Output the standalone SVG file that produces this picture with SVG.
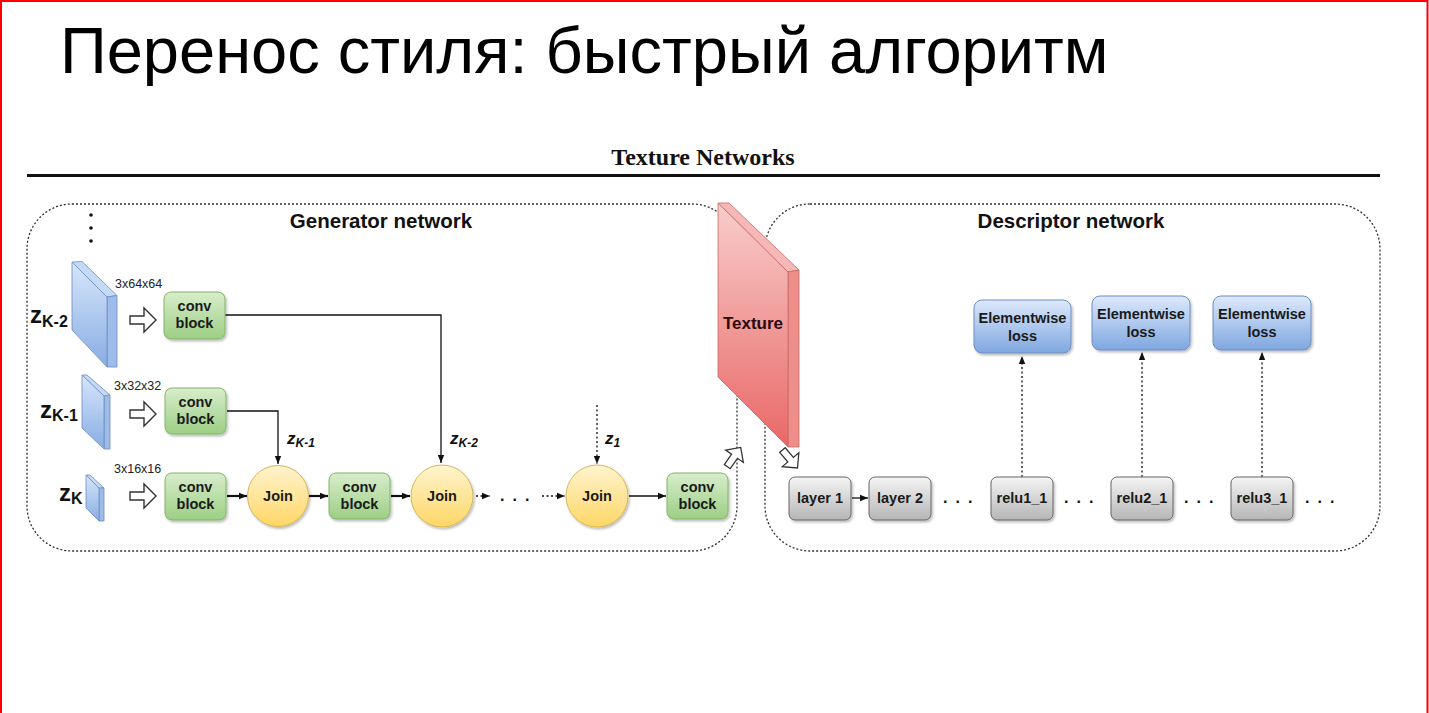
<svg xmlns="http://www.w3.org/2000/svg" width="1429" height="713" viewBox="0 0 1429 713">
  <style>
    .title { font-family: "Liberation Sans", Arial, sans-serif; font-size: 65px; fill: #000; }
    .caption { font-family: "Liberation Serif", "Times New Roman", serif; font-weight: bold; font-size: 24px; fill: #111; }
    .section { font-family: "Liberation Sans", Arial, sans-serif; font-weight: bold; font-size: 20.5px; fill: #111; }
    .lbl { font-family: "Liberation Sans", Arial, sans-serif; font-weight: bold; font-size: 14.5px; fill: #1a1a1a; text-anchor: middle; }
    .dim { font-family: "Liberation Sans", Arial, sans-serif; font-size: 12.5px; fill: #222; }
    .zbig { font-family: "Liberation Sans", Arial, sans-serif; font-weight: bold; font-size: 24px; fill: #111; }
    .zsub { font-family: "Liberation Sans", Arial, sans-serif; font-weight: bold; font-style: italic; font-size: 17px; fill: #111; }
    .dots { font-family: "Liberation Sans", Arial, sans-serif; font-weight: bold; font-size: 16px; fill: #111; letter-spacing: 8px; }
    .frame { fill: none; stroke: #333; stroke-width: 1.3; stroke-dasharray: 2 2; }
    .conv { fill: url(#gGreen); stroke: #82b366; stroke-width: 1; filter: url(#shadow); }
    .loss { fill: url(#gBlue); stroke: #6c8ebf; stroke-width: 1; filter: url(#shadow); }
    .layer { fill: url(#gGrey); stroke: #666; stroke-width: 1; filter: url(#shadow); }
    .join { fill: url(#gYellow); stroke: #d6b656; stroke-width: 1; filter: url(#shadow); }
    .wire { fill: none; stroke: #111; stroke-width: 1.3; marker-end: url(#arrow); }
    .wire.bold { stroke-width: 2.2; }
    .wire.dotted { stroke-dasharray: 2 2.5; }
    .hollow { fill: #fff; stroke: #333; stroke-width: 1.4; stroke-linejoin: miter; }
    .slab { stroke: #6c8ebf; stroke-width: 0.8; }
  </style>
  <defs>
    <linearGradient id="gGreen" x1="0" y1="0" x2="0" y2="1">
      <stop offset="0" stop-color="#d8edcc"/>
      <stop offset="1" stop-color="#9ccf84"/>
    </linearGradient>
    <linearGradient id="gBlue" x1="0" y1="0" x2="0" y2="1">
      <stop offset="0" stop-color="#dde9fb"/>
      <stop offset="1" stop-color="#7fa7e0"/>
    </linearGradient>
    <linearGradient id="gGrey" x1="0" y1="0" x2="0" y2="1">
      <stop offset="0" stop-color="#f5f5f5"/>
      <stop offset="1" stop-color="#b5b5b5"/>
    </linearGradient>
    <linearGradient id="gYellow" x1="0" y1="0" x2="0" y2="1">
      <stop offset="0" stop-color="#fff4cf"/>
      <stop offset="1" stop-color="#ffd766"/>
    </linearGradient>
    <linearGradient id="gRed" x1="0" y1="0" x2="0" y2="1">
      <stop offset="0" stop-color="#f8cdcb"/>
      <stop offset="1" stop-color="#e96866"/>
    </linearGradient>
    <linearGradient id="gSlab" x1="0" y1="0" x2="0" y2="1">
      <stop offset="0" stop-color="#d7e6fb"/>
      <stop offset="1" stop-color="#88ade3"/>
    </linearGradient>
    <filter id="shadow" x="-20%" y="-20%" width="150%" height="150%">
      <feDropShadow dx="1.5" dy="2" stdDeviation="1.2" flood-color="#000" flood-opacity="0.25"/>
    </filter>
    <marker id="arrow" markerUnits="userSpaceOnUse" viewBox="0 0 10 10" refX="10" refY="5" markerWidth="8" markerHeight="8" orient="auto">
      <path d="M0,1 L10,5 L0,9 Z" fill="#111"/>
    </marker>
    <path id="hollowArrow" d="M-13,-4 H1 V-12 L13,0 L1,12 V4 H-13 Z"/>
  </defs>

  <rect x="0" y="0" width="1429" height="713" fill="#fff"/>
  <!-- slide border -->
  <path d="M1,716 V1 H1427.5 V716" fill="none" stroke="#ff0000" stroke-width="2"/>

  <text class="title" x="60" y="73">Перенос стиля: быстрый алгоритм</text>

  <text class="caption" x="703" y="165" text-anchor="middle">Texture Networks</text>
  <line x1="27" y1="175.5" x2="1380" y2="175.5" stroke="#111" stroke-width="3"/>

  <!-- dotted frames of the two networks -->
  <g id="generator-frame">
    <rect class="frame" x="27" y="204" width="710" height="347" rx="45" ry="45"/>
    <text class="section" x="381" y="228" text-anchor="middle">Generator network</text>
  </g>
  <g id="descriptor-frame">
    <rect class="frame" x="765" y="204" width="615" height="347" rx="45" ry="45"/>
    <text class="section" x="1071" y="228" text-anchor="middle">Descriptor network</text>
  </g>

  <!-- noise inputs -->
  <g id="more-inputs" fill="#111">
    <circle cx="91" cy="215" r="1.8"/>
    <circle cx="91" cy="228" r="1.8"/>
    <circle cx="91" cy="241" r="1.8"/>
  </g>

  <g id="z-k2">
    <polygon class="slab" fill="#c5daf7" points="72,262 82,261.5 117,295.5 107,297"/>
    <polygon class="slab" fill="#9dbcea" points="107,297 117,295.5 117,367 107,367"/>
    <polygon class="slab" fill="url(#gSlab)" points="72,262 107,297 107,367 72,330"/>
    <text class="zbig" x="30" y="323">z<tspan font-size="16" dy="4">K-2</tspan></text>
    <text class="dim" x="115" y="288">3x64x64</text>
  </g>
  <g id="z-k1">
    <polygon class="slab" fill="#c5daf7" points="82,375 87,375 110,395 104,396"/>
    <polygon class="slab" fill="#9dbcea" points="104,396 110,395 110,449 104,449"/>
    <polygon class="slab" fill="url(#gSlab)" points="82,375 104,396 104,449 82,428"/>
    <text class="zbig" x="40" y="418">z<tspan font-size="16" dy="3">K-1</tspan></text>
    <text class="dim" x="114" y="390">3x32x32</text>
  </g>
  <g id="z-k">
    <polygon class="slab" fill="#c5daf7" points="86,475 90,475 104,488 99,488"/>
    <polygon class="slab" fill="#9dbcea" points="99,488 104,488 104,521 99,521"/>
    <polygon class="slab" fill="url(#gSlab)" points="86,475 99,488 99,521 86,508"/>
    <text class="zbig" x="59" y="501">z<tspan font-size="16" dy="3">K</tspan></text>
    <text class="dim" x="114" y="473">3x16x16</text>
  </g>

  <!-- input arrows -->
  <g id="input-arrows">
    <use href="#hollowArrow" class="hollow" transform="translate(143,320)"/>
    <use href="#hollowArrow" class="hollow" transform="translate(143,414)"/>
    <use href="#hollowArrow" class="hollow" transform="translate(143,496)"/>
  </g>

  <!-- connectors -->
  <g id="connectors">
    <path class="wire" d="M225,315 H441 V463"/>
    <path class="wire" d="M227,411 H278 V464"/>
    <path class="wire bold" d="M227,496 H247"/>
    <path class="wire bold" d="M309,496 H328"/>
    <path class="wire bold" d="M391,496 H410"/>
    <path class="wire dotted" d="M476,496 H490"/>
    <path class="wire dotted" d="M542,496 H565"/>
    <path class="wire" d="M629,496 H666"/>
    <path class="wire dotted" d="M597,405 V464"/>
    <path class="wire" d="M852,498 H868"/>
    <path class="wire dotted" d="M1022,477 V356"/>
    <path class="wire dotted" d="M1142,477 V352"/>
    <path class="wire dotted" d="M1262,477 V352"/>
  </g>

  <g id="connector-labels">
    <text class="zsub" x="287" y="444">z<tspan font-size="12" dy="3">K-1</tspan></text>
    <text class="zsub" x="450" y="444">z<tspan font-size="12" dy="3">K-2</tspan></text>
    <text class="zsub" x="605" y="444">z<tspan font-size="12" dy="3">1</tspan></text>
    <text class="dots" x="500" y="501">...</text>
  </g>

  <!-- generator blocks -->
  <g id="conv-1">
    <rect class="conv" x="164" y="292" width="61" height="47" rx="7"/>
    <text class="lbl" x="194.5" y="311">conv</text>
    <text class="lbl" x="194.5" y="328">block</text>
  </g>
  <g id="conv-2">
    <rect class="conv" x="165" y="388" width="61" height="46" rx="7"/>
    <text class="lbl" x="195.5" y="407">conv</text>
    <text class="lbl" x="195.5" y="424">block</text>
  </g>
  <g id="conv-3">
    <rect class="conv" x="165" y="473" width="61" height="47" rx="7"/>
    <text class="lbl" x="195.5" y="492">conv</text>
    <text class="lbl" x="195.5" y="509">block</text>
  </g>
  <g id="join-1">
    <circle class="join" cx="278" cy="496" r="30.5"/>
    <text class="lbl" x="278" y="500.5">Join</text>
  </g>
  <g id="conv-4">
    <rect class="conv" x="329" y="473" width="61" height="46" rx="7"/>
    <text class="lbl" x="359.5" y="492">conv</text>
    <text class="lbl" x="359.5" y="509">block</text>
  </g>
  <g id="join-2">
    <circle class="join" cx="442" cy="496" r="31"/>
    <text class="lbl" x="442" y="500.5">Join</text>
  </g>
  <g id="join-3">
    <circle class="join" cx="597" cy="496" r="31"/>
    <text class="lbl" x="597" y="500.5">Join</text>
  </g>
  <g id="conv-5">
    <rect class="conv" x="667" y="473" width="61" height="46" rx="7"/>
    <text class="lbl" x="697.5" y="492">conv</text>
    <text class="lbl" x="697.5" y="509">block</text>
  </g>

  <!-- texture plate between the networks -->
  <g id="texture">
    <polygon fill="#f6b8b6" stroke="#c86a66" stroke-width="0.8" points="718,203 729,203 799,270 788,272"/>
    <polygon fill="#ee8e8b" stroke="#c86a66" stroke-width="0.8" points="788,272 799,270 799,447 788,447"/>
    <polygon fill="url(#gRed)" stroke="#c86a66" stroke-width="0.8" points="718,203 788,272 788,447 718,377"/>
    <text x="753" y="329" text-anchor="middle" font-family="Liberation Sans, Arial, sans-serif" font-weight="bold" font-size="17" fill="#2a0a0a">Texture</text>
  </g>
  <g id="texture-arrows">
    <use href="#hollowArrow" class="hollow" transform="translate(734,457) rotate(-55) scale(0.9)"/>
    <use href="#hollowArrow" class="hollow" transform="translate(790,459) rotate(50) scale(0.9)"/>
  </g>

  <!-- descriptor blocks -->
  <g id="loss-1">
    <rect class="loss" x="974" y="300" width="97" height="53" rx="8"/>
    <text class="lbl" x="1022.5" y="323">Elementwise</text>
    <text class="lbl" x="1022.5" y="341">loss</text>
  </g>
  <g id="loss-2">
    <rect class="loss" x="1092" y="296" width="98" height="54" rx="8"/>
    <text class="lbl" x="1141" y="319">Elementwise</text>
    <text class="lbl" x="1141" y="337">loss</text>
  </g>
  <g id="loss-3">
    <rect class="loss" x="1213" y="296" width="98" height="54" rx="8"/>
    <text class="lbl" x="1262" y="319">Elementwise</text>
    <text class="lbl" x="1262" y="337">loss</text>
  </g>

  <g id="layer-1">
    <rect class="layer" x="789" y="477" width="62" height="43" rx="6"/>
    <text class="lbl" x="820" y="503">layer 1</text>
  </g>
  <g id="layer-2">
    <rect class="layer" x="869" y="477" width="62" height="43" rx="6"/>
    <text class="lbl" x="900" y="503">layer 2</text>
  </g>
  <g id="relu1-1">
    <rect class="layer" x="991" y="477" width="62" height="43" rx="6"/>
    <text class="lbl" x="1022" y="503">relu1_1</text>
  </g>
  <g id="relu2-1">
    <rect class="layer" x="1111" y="477" width="62" height="43" rx="6"/>
    <text class="lbl" x="1142" y="503">relu2_1</text>
  </g>
  <g id="relu3-1">
    <rect class="layer" x="1231" y="477" width="62" height="43" rx="6"/>
    <text class="lbl" x="1262" y="503">relu3_1</text>
  </g>
  <g id="descriptor-dots">
    <text class="dots" x="943" y="503">...</text>
    <text class="dots" x="1064" y="503">...</text>
    <text class="dots" x="1184" y="503">...</text>
    <text class="dots" x="1305" y="503">...</text>
  </g>
</svg>
